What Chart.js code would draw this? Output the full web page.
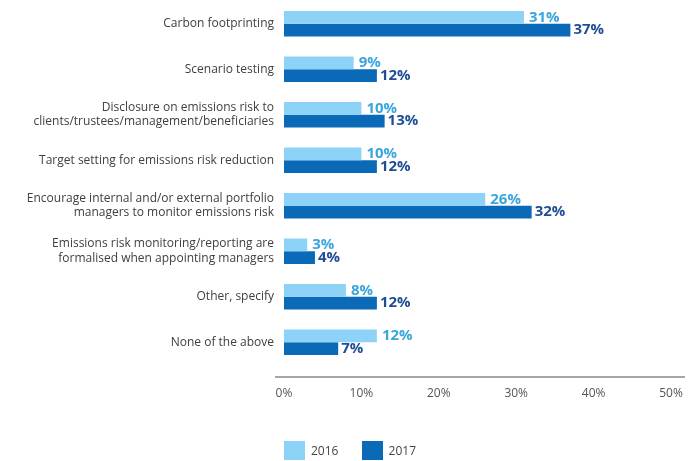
<!DOCTYPE html>
<html>
<head>
<meta charset="utf-8">
<script src="https://cdn.jsdelivr.net/npm/chart.js@4"></script>
<style>
  html, body { margin: 0; padding: 0; background: #fff; }
  #wrap { position: relative; width: 697px; height: 461px; }
  #legend { position: absolute; left: 284px; top: 441px; font: 12px "Open Sans", sans-serif; color: #444; }
  .item { display: inline-block; margin-right: 20px; }
  .box { display: inline-block; width: 21px; height: 19px; vertical-align: middle; margin-right: 6px; }
  .item span { vertical-align: middle; }
</style>
</head>
<body>
<div id="wrap">
  <canvas id="myChart" width="697" height="461"></canvas>
  <div id="legend">
    <div class="item"><div class="box" style="background:#8dd3f7"></div><span>2016</span></div>
    <div class="item"><div class="box" style="background:#0a6ab8"></div><span>2017</span></div>
  </div>
</div>
<script>
const categories = [
    'Carbon footprinting',
    'Scenario testing',
    ['Disclosure on emissions risk to', 'clients/trustees/management/beneficiaries'],
    'Target setting for emissions risk reduction',
    ['Encourage internal and/or external portfolio', 'managers to monitor emissions risk'],
    ['Emissions risk monitoring/reporting are', 'formalised when appointing managers'],
    'Other, specify',
    'None of the above'
];
const values2016 = [31, 9, 10, 10, 26, 3, 8, 12];
const values2017 = [37, 12, 13, 12, 32, 4, 12, 7];
const xTicks = [0, 10, 20, 30, 40, 50];

// value labels next to each bar
const barLabels = {
    id: 'barLabels',
    afterDatasetsDraw(chart) {
        const ctx = chart.ctx;
        ctx.save();
        ctx.font = 'bold 15px "Open Sans", sans-serif';
        ctx.textBaseline = 'middle';
        ctx.textAlign = 'left';
        chart.data.datasets.forEach(function (ds, i) {
            ctx.fillStyle = ds.labelColor;
            chart.getDatasetMeta(i).data.forEach(function (bar, j) {
                ctx.fillText(ds.data[j] + '%', bar.x + ds.labelGap, bar.y);
            });
        });
        ctx.restore();
    }
};

// grey axis line under the bars
const axisLine = {
    id: 'axisLine',
    afterDraw(chart) {
        const a = chart.chartArea;
        const ctx = chart.ctx;
        ctx.save();
        ctx.strokeStyle = '#a6a6a6';
        ctx.lineWidth = 2;
        ctx.beginPath();
        ctx.moveTo(a.left - 9, a.bottom + 12);
        ctx.lineTo(a.right + 14, a.bottom + 12);
        ctx.stroke();
        ctx.restore();
    }
};

const ctx = document.getElementById('myChart').getContext('2d');
const myChart = new Chart(ctx, {
    type: 'bar',
    data: {
        labels: categories,
        datasets: [{
            label: '2016',
            data: values2016,
            backgroundColor: '#8dd3f7',
            labelColor: '#3aa6dc',
            labelGap: 5
        }, {
            label: '2017',
            data: values2017,
            backgroundColor: '#0a6ab8',
            labelColor: '#1f4e96',
            labelGap: 3
        }]
    },
    plugins: [barLabels, axisLine],
    options: {
        indexAxis: 'y',
        responsive: false,
        animation: false,
        layout: { padding: { top: 1, right: 26, left: 0, bottom: 0 } },
        datasets: {
            bar: { barPercentage: 1, categoryPercentage: 0.56 }
        },
        plugins: {
            legend: { display: false },
            tooltip: { enabled: false }
        },
        scales: {
            x: {
                min: 0,
                max: 50,
                afterBuildTicks: function (scale) {
                    scale.ticks = xTicks.map(function (v) { return { value: v }; });
                },
                afterFit: function (scale) {
                    scale.height = 96;
                    scale.paddingLeft = 0;
                    scale.paddingRight = 0;
                },
                grid: { display: false, drawTicks: false },
                border: { display: false },
                ticks: {
                    padding: 21,
                    color: '#555',
                    font: { family: 'Open Sans', size: 12 },
                    callback: function (v) { return v + '%'; }
                }
            },
            y: {
                afterFit: function (scale) {
                    scale.width = 284;
                    scale.paddingTop = 0;
                    scale.paddingBottom = 0;
                },
                grid: { display: false, drawTicks: false },
                border: { display: false },
                ticks: {
                    padding: 10,
                    color: '#404040',
                    font: { family: 'Open Sans', size: 12, lineHeight: 1.2 }
                }
            }
        }
    }
});
</script>
</body>
</html>
